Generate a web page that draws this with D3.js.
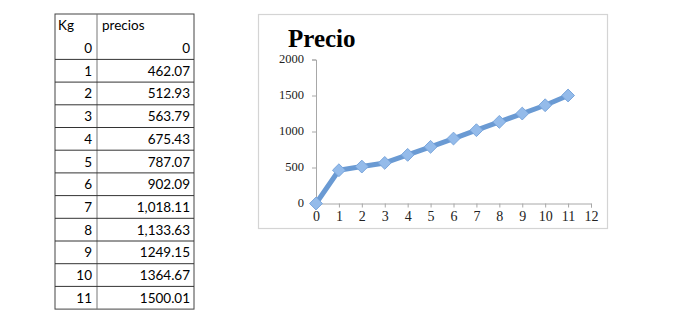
<!DOCTYPE html>
<html>
<head>
<meta charset="utf-8">
<script src="https://cdn.jsdelivr.net/npm/d3@7"></script>
<style>
body { margin: 0; background: #fff; }
</style>
</head>
<body>
<svg id="chart"></svg>
<script>
var kg = [0, 1, 2, 3, 4, 5, 6, 7, 8, 9, 10, 11];
var precios = [0, 462.07, 512.93, 563.79, 675.43, 787.07, 902.09, 1018.11, 1133.63, 1249.15, 1364.67, 1500.01];
var preciosText = ["0", "462.07", "512.93", "563.79", "675.43", "787.07", "902.09", "1,018.11", "1,133.63", "1249.15", "1364.67", "1500.01"];
var xTicks = [0, 1, 2, 3, 4, 5, 6, 7, 8, 9, 10, 11, 12];
var yTicks = [0, 500, 1000, 1500, 2000];

var svg = d3.select("#chart").attr("width", 673).attr("height", 322);

// table on the left
var tLeft = 55, tMid = 97, tRight = 194, tTop = 14, rowH = 22.7;
var rows = [["Kg", "precios"]].concat(kg.map(function(d, i){ return [String(d), preciosText[i]]; }));
var table = svg.append("g");
table.append("rect")
	.attr("x", tLeft).attr("y", tTop)
	.attr("width", tRight - tLeft).attr("height", rowH * rows.length)
	.attr("fill", "none").attr("stroke", "#444").attr("stroke-width", 1);
table.append("line")
	.attr("x1", tMid).attr("x2", tMid)
	.attr("y1", tTop).attr("y2", tTop + rowH * rows.length)
	.attr("stroke", "#777");
for (var r = 2; r < rows.length; r++) {
	table.append("line")
		.attr("x1", tLeft).attr("x2", tRight)
		.attr("y1", tTop + r * rowH).attr("y2", tTop + r * rowH)
		.attr("stroke", "#333");
}
rows.forEach(function(row, i){
	var y = tTop + i * rowH + rowH / 2 + 5;
	if (i == 0) {
		table.append("text").attr("x", tLeft + 3).attr("y", y).text(row[0]);
		table.append("text").attr("x", tMid + 5).attr("y", y).text(row[1]);
	} else {
		table.append("text").attr("x", tMid - 5).attr("y", y).attr("text-anchor", "end").text(row[0]);
		table.append("text").attr("x", tRight - 4).attr("y", y).attr("text-anchor", "end").text(row[1]);
	}
});
table.selectAll("text")
	.attr("font-family", "Lato, sans-serif")
	.attr("font-size", 13.5)
	.attr("fill", "#000");

// chart box
svg.append("rect")
	.attr("x", 258.5).attr("y", 14.5)
	.attr("width", 349).attr("height", 214)
	.attr("fill", "#fff").attr("stroke", "#d4d4d4").attr("stroke-width", 1.2);

svg.append("text")
	.attr("x", 288).attr("y", 47)
	.attr("font-family", "'Liberation Serif', serif")
	.attr("font-weight", "bold")
	.attr("font-size", 25)
	.text("Precio");

var x = d3.scaleLinear().domain([0, 12]).range([316, 591]);
var y = d3.scaleLinear().domain([0, 2000]).range([203.5, 59.5]);

var xAxis = svg.append("g")
	.attr("transform", "translate(0," + y(0) + ")")
	.call(d3.axisBottom(x).tickValues(xTicks).tickSize(4).tickPadding(4).tickFormat(d3.format("d")));
var yAxis = svg.append("g")
	.attr("transform", "translate(" + x(0) + ",0)")
	.call(d3.axisLeft(y).tickValues(yTicks).tickSize(4).tickPadding(8).tickFormat(d3.format("d")));

[xAxis, yAxis].forEach(function(a){
	a.select(".domain").attr("stroke", "#a8a8a8");
	a.selectAll(".tick line").attr("stroke", "#a8a8a8");
	a.selectAll("text")
		.attr("font-family", "'Liberation Serif', serif")
		.attr("fill", "#222");
});
xAxis.selectAll("text").attr("font-size", 14);
yAxis.selectAll("text").attr("font-size", 12.5).attr("dy", "0.25em");

var line = d3.line()
	.x(function(d, i){ return x(kg[i]); })
	.y(function(d){ return y(d); });

svg.append("path")
	.datum(precios)
	.attr("d", line)
	.attr("fill", "none")
	.attr("stroke", "#6a9ad3")
	.attr("stroke-width", 5)
	.attr("stroke-linejoin", "round");

svg.selectAll(".pt")
	.data(precios)
	.enter().append("path")
	.attr("class", "pt")
	.attr("d", d3.symbol().type(d3.symbolDiamond2).size(105))
	.attr("transform", function(d, i){ return "translate(" + x(kg[i]) + "," + y(d) + ")"; })
	.attr("fill", "#94bbea")
	.attr("stroke", "#7aa6dc")
	.attr("stroke-width", 1);
</script>
</body>
</html>
